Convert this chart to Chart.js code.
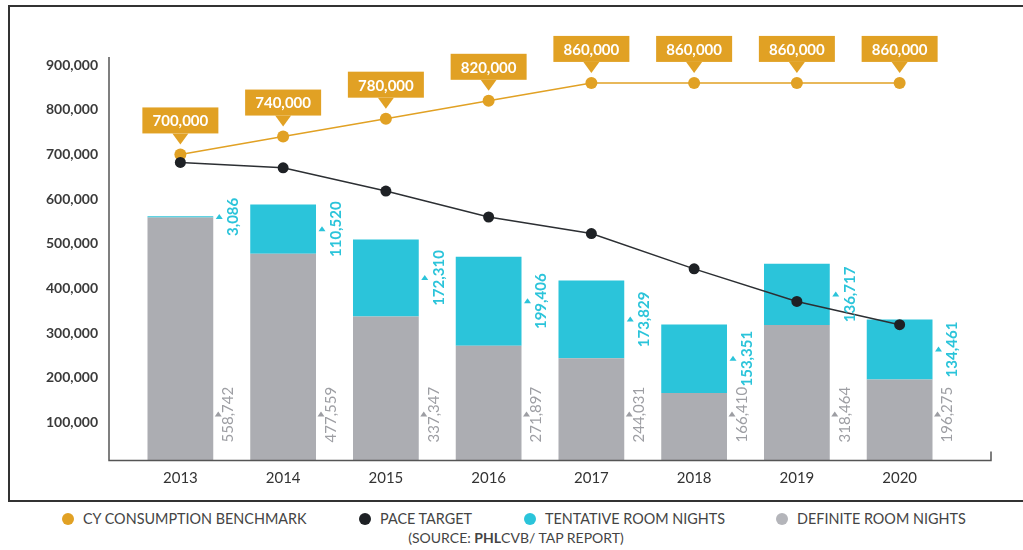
<!DOCTYPE html>
<html>
<head>
<meta charset="utf-8">
<title>Room Nights</title>
<script src="https://cdn.jsdelivr.net/npm/chart.js@4.4.1/dist/chart.umd.min.js"></script>
<style>
    body { margin: 0; background: #fff; font-family: Lato, sans-serif; }
    #wrap { position: relative; width: 1023px; height: 550px; overflow: hidden; }
    .frame { position: absolute; left: 8px; top: 5px; width: 1040px; height: 497px; border: 2px solid #333; box-sizing: border-box; }
    #roomChart { position: absolute; left: 0; top: 0; }
    .legend-item { position: absolute; top: 510px; font-size: 14.4px; line-height: 18px; color: #444; white-space: nowrap; }
    .legend-item .dot { position: absolute; left: -21px; top: 3px; width: 12px; height: 12px; border-radius: 50%; }
    .source { position: absolute; left: 0; top: 529px; width: 1032px; text-align: center; font-size: 14px; line-height: 18px; color: #444; }
</style>
</head>
<body>
<div id="wrap">
    <div class="frame"></div>
    <canvas id="roomChart" width="1023" height="500"></canvas>
    <div id="legend"></div>
    <div class="source">(SOURCE: <b>PHL</b>CVB/ TAP REPORT)</div>
</div>
<script>
const years = ['2013', '2014', '2015', '2016', '2017', '2018', '2019', '2020'];
const definiteNights = [558742, 477559, 337347, 271897, 244031, 166410, 318464, 196275];
const tentativeNights = [3086, 110520, 172310, 199406, 173829, 153351, 136717, 134461];
const benchmark = [700000, 740000, 780000, 820000, 860000, 860000, 860000, 860000];
const paceTarget = [682000, 670000, 618000, 560000, 523000, 444000, 371000, 319000];
const yTicks = [100000, 200000, 300000, 400000, 500000, 600000, 700000, 800000, 900000];

const GOLD = '#e1a124';
const CYAN = '#2bc4da';
const GRAY = '#acadb2';
const INK = '#1e2125';

const legendItems = [
    { label: 'CY CONSUMPTION BENCHMARK', color: GOLD, left: 83 },
    { label: 'PACE TARGET', color: INK, left: 380 },
    { label: 'TENTATIVE ROOM NIGHTS', color: CYAN, left: 545 },
    { label: 'DEFINITE ROOM NIGHTS', color: '#b4b5ba', left: 797 }
];

const fmt = v => v.toLocaleString('en-US');

// axis lines sit a little outside the category area
const axisLines = {
    id: 'axisLines',
    afterDatasetsDraw(chart) {
        const { ctx, chartArea } = chart;
        const x0 = chartArea.left - 20;
        const x1 = chartArea.right + 40;
        ctx.save();
        ctx.strokeStyle = '#555';
        ctx.lineWidth = 1.5;
        ctx.beginPath();
        ctx.moveTo(x0, chartArea.top);
        ctx.lineTo(x0, chartArea.bottom);
        ctx.lineTo(x1, chartArea.bottom);
        ctx.lineTo(x1, chartArea.bottom - 9);
        ctx.stroke();
        ctx.restore();
    }
};

function drawSideLabel(ctx, value, x, y, caretX, color, font) {
    ctx.save();
    ctx.fillStyle = color;
    ctx.beginPath();
    ctx.moveTo(caretX - 3.5, y + 2);
    ctx.lineTo(caretX + 3.5, y + 2);
    ctx.lineTo(caretX, y - 3);
    ctx.closePath();
    ctx.fill();
    ctx.font = font;
    ctx.translate(x, y);
    ctx.rotate(-Math.PI / 2);
    ctx.textAlign = 'center';
    ctx.textBaseline = 'middle';
    ctx.fillText(fmt(value), 0, 0);
    ctx.restore();
}

// rotated values beside each bar
const valueLabels = {
    id: 'valueLabels',
    afterDatasetsDraw(chart) {
        const { ctx, chartArea } = chart;
        const defBars = chart.getDatasetMeta(0).data;
        const tenBars = chart.getDatasetMeta(1).data;
        defBars.forEach((bar, i) => {
            const right = bar.x + bar.width / 2;
            drawSideLabel(ctx, definiteNights[i], right + 15, chartArea.bottom - 46, right + 5, '#9d9ea3', '15px Lato');
            const t = tenBars[i];
            drawSideLabel(ctx, tentativeNights[i], right + 20, (t.y + t.base) / 2, right + 6, CYAN, 'bold 15px Lato');
        });
    }
};

// gold callouts above the benchmark points
const callouts = {
    id: 'callouts',
    afterDatasetsDraw(chart) {
        const { ctx } = chart;
        ctx.save();
        chart.getDatasetMeta(2).data.forEach((pt, i) => {
            const w = 76, top = pt.y - 47, bottom = pt.y - 21, tip = pt.y - 10;
            ctx.fillStyle = GOLD;
            ctx.fillRect(pt.x - w / 2, top, w, bottom - top);
            ctx.beginPath();
            ctx.moveTo(pt.x - 8, bottom);
            ctx.lineTo(pt.x + 8, bottom);
            ctx.lineTo(pt.x, tip);
            ctx.closePath();
            ctx.fill();
            ctx.fillStyle = '#fff';
            ctx.font = 'bold 15px Lato';
            ctx.textAlign = 'center';
            ctx.textBaseline = 'middle';
            ctx.fillText(fmt(benchmark[i]), pt.x, (top + bottom) / 2 + 1);
        });
        ctx.restore();
    }
};

document.addEventListener('DOMContentLoaded', function() {
    buildLegend();
    buildChart();
});

function buildLegend() {
    document.getElementById('legend').innerHTML = legendItems.map(item => `
        <div class="legend-item" style="left:${item.left}px">
            <span class="dot" style="background:${item.color}"></span>${item.label}
        </div>
    `).join('');
}

function buildChart() {
    Chart.defaults.font.family = 'Lato, sans-serif';
    const ctx = document.getElementById('roomChart').getContext('2d');
    new Chart(ctx, {
        type: 'bar',
        data: {
            labels: years,
            datasets: [{
                label: 'Definite Room Nights',
                data: definiteNights,
                backgroundColor: GRAY,
                stack: 'rooms',
                order: 3,
                barPercentage: 0.64,
                categoryPercentage: 1
            }, {
                label: 'Tentative Room Nights',
                data: tentativeNights,
                backgroundColor: CYAN,
                stack: 'rooms',
                order: 3,
                barPercentage: 0.64,
                categoryPercentage: 1
            }, {
                type: 'line',
                label: 'CY Consumption Benchmark',
                data: benchmark,
                stack: 'bench',
                order: 2,
                borderColor: GOLD,
                borderWidth: 1.5,
                pointRadius: 6,
                pointBackgroundColor: GOLD,
                pointBorderWidth: 0,
                tension: 0
            }, {
                type: 'line',
                label: 'Pace Target',
                data: paceTarget,
                stack: 'pace',
                order: 1,
                borderColor: '#2c2f33',
                borderWidth: 1.5,
                pointRadius: 5.5,
                pointBackgroundColor: INK,
                pointBorderWidth: 0,
                tension: 0
            }]
        },
        options: {
            responsive: false,
            animation: false,
            events: [],
            layout: { padding: { left: 0, right: 72, top: 57, bottom: 0 } },
            plugins: {
                legend: { display: false },
                tooltip: { enabled: false }
            },
            scales: {
                x: {
                    stacked: true,
                    grid: { display: false, drawTicks: false },
                    border: { display: false },
                    ticks: { color: '#333', font: { size: 15 }, padding: 9 },
                    afterFit: scale => { scale.height = 39; }
                },
                y: {
                    stacked: true,
                    min: 15000,
                    max: 918000,
                    grid: { display: false, drawTicks: false },
                    border: { display: false },
                    afterBuildTicks: scale => { scale.ticks = yTicks.map(v => ({ value: v })); },
                    ticks: {
                        color: '#3a3a3a',
                        font: { size: 14, weight: 'bold' },
                        padding: 31,
                        callback: v => fmt(v)
                    },
                    afterFit: scale => { scale.width = 129; }
                }
            }
        },
        plugins: [axisLines, valueLabels, callouts]
    });
}
</script>
</body>
</html>
